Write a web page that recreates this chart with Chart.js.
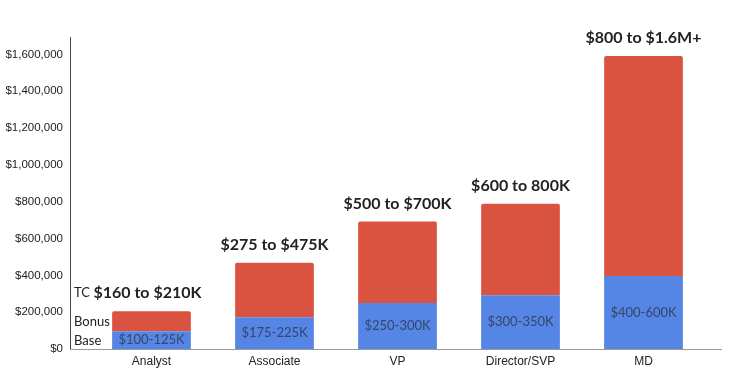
<!DOCTYPE html>
<html>
<head>
<meta charset="utf-8">
<script src="https://cdn.jsdelivr.net/npm/chart.js@4"></script>
<style>
  html, body { margin: 0; padding: 0; background: #fff; overflow: hidden; }
  canvas { display: block; }
</style>
</head>
<body>
<canvas id="chart" width="734" height="372"></canvas>
<script>
const categories = ['Analyst', 'Associate', 'VP', 'Director/SVP', 'MD'];
const baseValues = [97000, 172000, 250000, 292000, 397000];
const bonusValues = [108000, 296000, 442000, 497000, 1195000];
const totalLabels = ['$160 to $210K', '$275 to $475K', '$500 to $700K', '$600 to 800K', '$800 to $1.6M+'];
const baseLabels = ['$100-125K', '$175-225K', '$250-300K', '$300-350K', '$400-600K'];
const yTicks = [0, 200000, 400000, 600000, 800000, 1000000, 1200000, 1400000, 1600000];

const BLUE = '#5585e5';
const RED = '#da5340';

// axis lines + text annotations
const annotations = {
    id: 'annotations',
    afterDatasetsDraw(chart) {
        const ctx = chart.ctx;
        const x = chart.scales.x;
        const y = chart.scales.y;
        const zero = y.getPixelForValue(0);

        ctx.save();
        // axis lines
        ctx.lineWidth = 1;
        ctx.strokeStyle = '#444';
        ctx.beginPath();
        ctx.moveTo(70.5, 37);
        ctx.lineTo(70.5, zero + 1);
        ctx.stroke();
        ctx.strokeStyle = '#9a9a9a';
        ctx.beginPath();
        ctx.moveTo(70, zero + 0.5);
        ctx.lineTo(722, zero + 0.5);
        ctx.stroke();

        ctx.textBaseline = 'middle';
        categories.forEach((c, i) => {
            const cx = x.getPixelForValue(i);
            const top = y.getPixelForValue(baseValues[i] + bonusValues[i]);
            const baseTop = y.getPixelForValue(baseValues[i]);

            ctx.fillStyle = '#222';
            ctx.font = 'bold 16px Lato';
            ctx.textAlign = 'center';
            ctx.fillText(totalLabels[i], cx - (i === 0 ? 4 : 0), top - 18);

            ctx.fillStyle = '#36466a';
            ctx.font = '13px Lato';
            ctx.fillText(baseLabels[i], cx, (baseTop + zero) / 2);
        });

        // small side notes next to the first bar
        const top0 = y.getPixelForValue(baseValues[0] + bonusValues[0]);
        const base0 = y.getPixelForValue(baseValues[0]);
        ctx.fillStyle = '#222';
        ctx.font = '13px Lato';
        ctx.textAlign = 'left';
        ctx.fillText('TC', 74, top0 - 18);
        ctx.fillText('Bonus', 74, (top0 + base0) / 2 + 1);
        ctx.fillText('Base', 74, (base0 + zero) / 2 + 1);
        ctx.restore();
    }
};

new Chart(document.getElementById('chart'), {
    type: 'bar',
    data: {
        labels: categories,
        datasets: [
            { label: 'Base', data: baseValues, backgroundColor: BLUE, borderRadius: 0 },
            {
                label: 'Bonus', data: bonusValues, backgroundColor: RED,
                borderRadius: { topLeft: 2, topRight: 2, bottomLeft: 0, bottomRight: 0 },
                borderSkipped: 'bottom'
            }
        ]
    },
    options: {
        responsive: false,
        animation: false,
        layout: { padding: { top: 36, right: 29, bottom: 0, left: 0 } },
        plugins: { legend: { display: false }, tooltip: { enabled: false } },
        datasets: { bar: { barPercentage: 0.64, categoryPercentage: 1 } },
        scales: {
            x: {
                stacked: true,
                grid: { display: false, drawTicks: false },
                border: { display: false },
                afterFit(scale) { scale.height = 23; },
                ticks: {
                    color: '#222',
                    padding: 5,
                    font: { family: 'Liberation Sans, Arial', size: 12 }
                }
            },
            y: {
                stacked: true,
                min: 0,
                max: 1700000,
                grid: { display: false, drawTicks: false },
                border: { display: false },
                afterBuildTicks(scale) {
                    scale.ticks = yTicks.map(v => ({ value: v }));
                },
                afterFit(scale) {
                    scale.width = 90;
                    // the big label gap should not push the plot area around
                    scale.paddingTop = 0;
                    scale.paddingBottom = 0;
                },
                ticks: {
                    color: '#222',
                    padding: 27,
                    font: { family: 'Liberation Sans, Arial', size: 11.5 },
                    callback: v => '$' + v.toLocaleString('en-US')
                }
            }
        }
    },
    plugins: [annotations]
});
</script>
</body>
</html>
